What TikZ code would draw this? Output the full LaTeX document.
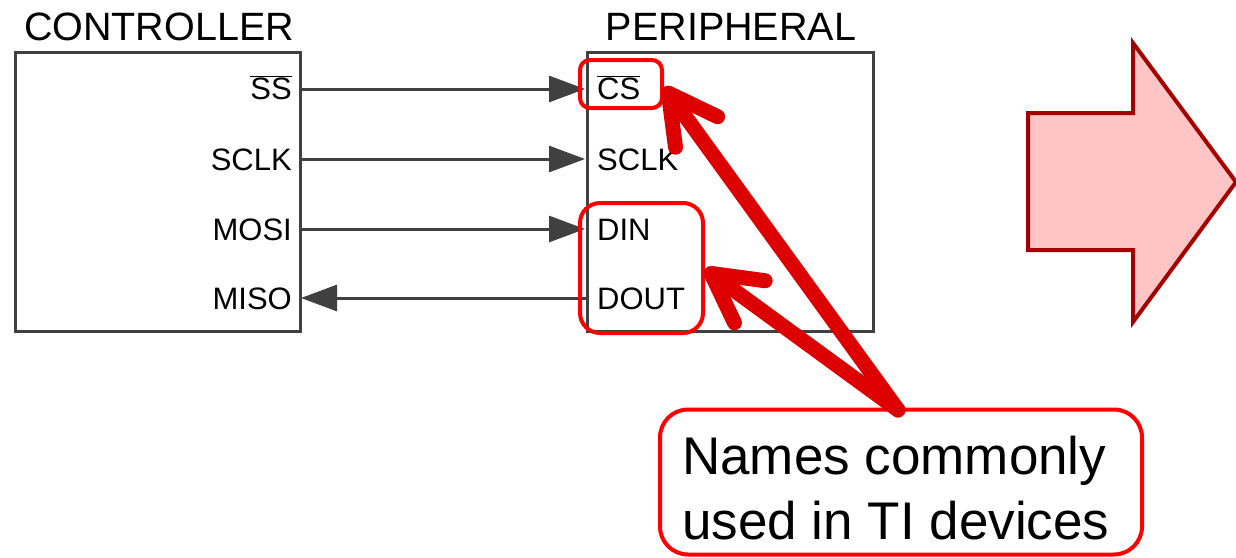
\documentclass[tikz,border=0pt]{standalone}
\usepackage{fontspec}
\setmainfont{Liberation Sans}
\usetikzlibrary{arrows.meta}
\definecolor{boxgray}{HTML}{404040}
\definecolor{hlred}{HTML}{FF0000}
\definecolor{arrred}{HTML}{DD0000}
\definecolor{bigfill}{HTML}{FFC5C5}
\definecolor{bigdraw}{HTML}{A50000}
\newcommand{\myovl}[1]{$\overline{\hbox{#1}}$}
\tikzset{
  chip/.style={draw=boxgray, line width=3pt, inner sep=0pt},
  title/.style={font=\fontsize{39.5}{40}\selectfont, anchor=base, inner sep=0pt},
  pinL/.style={font=\fontsize{31}{32}\selectfont, anchor=base east, inner sep=0pt},
  pinR/.style={font=\fontsize{31}{32}\selectfont, anchor=base west, inner sep=0pt},
  sig/.style={draw=boxgray, line width=3pt, -{Triangle[length=36pt,width=26pt]}},
  hlbox/.style={draw=hlred, line width=4pt},
  callarrow/.style={draw=arrred, line width=15pt, line cap=round, -{Straight Barb[length=48pt,width=52pt,round]}},
  calltxt/.style={font=\fontsize{53}{65}\selectfont, anchor=base west, inner sep=0pt},
}
\begin{document}
\begin{tikzpicture}[x=1pt,y=-1pt]
\useasboundingbox (0,0) rectangle (1236,557);
% boxes
\draw[chip] (15,52) rectangle (300,331);
\draw[chip] (587,52) rectangle (873,331);
\node[title] (tctrl) at (159,40) {CONTROLLER};
\node[title] (tper) at (731,40) {PERIPHERAL};
% pin coordinates
\coordinate (css) at (300,89);
\coordinate (csclk) at (300,159);
\coordinate (cmosi) at (300,229);
\coordinate (cmiso) at (300,298);
\coordinate (pcs) at (585,89);
\coordinate (psclk) at (585,159);
\coordinate (pdin) at (585,229);
\coordinate (pdout) at (587,298);
% labels
\node[pinL] (lss) at (292,99) {\myovl{SS}};
\node[pinL] (lsclk) at (292,170) {SCLK};
\node[pinL] (lmosi) at (292,240) {MOSI};
\node[pinL] (lmiso) at (292,309) {MISO};
\node[pinR] (lcs) at (597,99) {\myovl{CS}};
\node[pinR] (lpsclk) at (597,170) {SCLK};
\node[pinR] (ldin) at (597,240) {DIN};
\node[pinR] (ldout) at (597,309) {DOUT};
% signals
\draw[sig] (css) -- (pcs);
\draw[sig] (csclk) -- (psclk);
\draw[sig] (cmosi) -- (pdin);
\draw[sig] (pdout) -- ([xshift=1pt]cmiso);
% highlight boxes
\draw[hlbox, rounded corners=10pt] (580,60) rectangle (662,108);
\draw[hlbox, rounded corners=20pt] (580,203) rectangle (703,333);
\node[draw=hlred, line width=4pt, rounded corners=28pt, minimum width=482pt, minimum height=145pt, inner sep=0pt] (call) at (901,482) {};
\node[calltxt] (calltext1) at (682,474) {Names commonly};
\node[calltxt] (calltext2) at (682,539) {used in TI devices};
% red arrows
\coordinate (cstart) at (898,410);
\coordinate (tipcs) at (664,87);
\coordinate (tipdout) at (705,269);
\draw[callarrow] (cstart) -- (tipcs);
\draw[callarrow] (cstart) -- (tipdout);
% big arrow
\draw[fill=bigfill, draw=bigdraw, line width=4pt] (1028,113) -- (1133,113) -- (1133,43) -- (1236,182) -- (1133,322) -- (1133,250) -- (1028,250) -- cycle;
\end{tikzpicture}
\end{document}
